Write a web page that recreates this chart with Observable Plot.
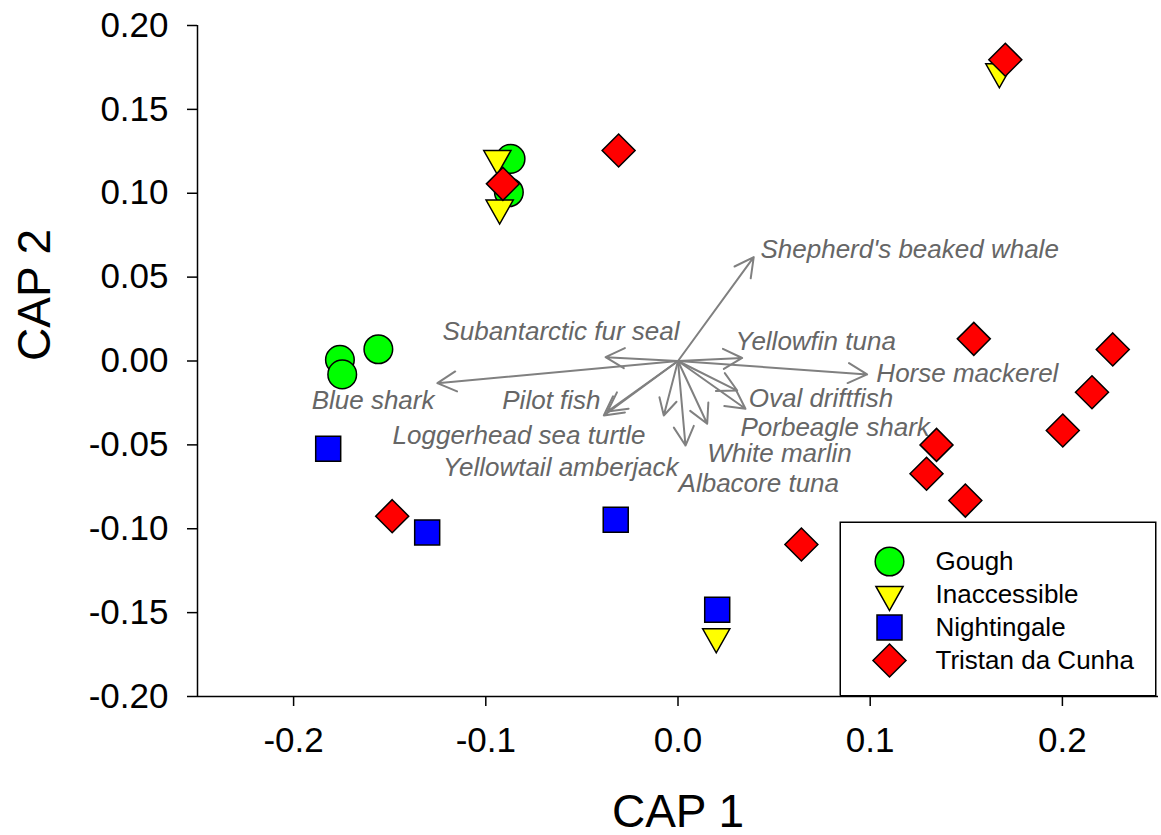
<!DOCTYPE html>
<html>
<head>
<meta charset="utf-8">
<script src="https://cdn.jsdelivr.net/npm/d3@7"></script>
<script src="https://cdn.jsdelivr.net/npm/@observablehq/plot@0.6"></script>
<style>
  body { margin: 0; background: #fff; }
  #wrap { position: relative; width: 1161px; height: 835px; font-family: "Liberation Sans", Arial, sans-serif; }
  #wrap > svg { position: absolute; left: 0; top: 0; }
  #wrap > svg.legend { left: 839px; top: 521px; }
</style>
</head>
<body>
<div id="wrap"></div>
<script>
// ---------- data ----------
const groups = ["Gough", "Inaccessible", "Nightingale", "Tristan da Cunha"];
const groupColors = ["#00ff00", "#ffff00", "#0000ff", "#ff0000"];

const goughX = [-0.0871, -0.0880, -0.1759, -0.1747, -0.1559];
const goughY = [0.1205, 0.1006, 0.0007, -0.0080, 0.0070];

const inaccessibleX = [-0.0940, -0.0928, 0.1672, 0.0199];
const inaccessibleY = [0.1207, 0.0912, 0.1724, -0.1644];

const nightingaleX = [-0.1820, -0.1305, -0.0324, 0.0204];
const nightingaleY = [-0.0523, -0.1022, -0.0947, -0.1483];

const tristanX = [-0.0911, -0.0309, 0.1703, -0.1487, 0.0642, 0.1539, 0.2262, 0.2154, 0.2002, 0.1345, 0.1293, 0.1495];
const tristanY = [0.1056, 0.1255, 0.1796, -0.0925, -0.1094, 0.0132, 0.0069, -0.0186, -0.0414, -0.0500, -0.0672, -0.0832];

const species = ["Shepherd's beaked whale", "Subantarctic fur seal", "Yellowfin tuna", "Horse mackerel",
  "Blue shark", "Pilot fish", "Loggerhead sea turtle", "Yellowtail amberjack",
  "Albacore tuna", "White marlin", "Porbeagle shark", "Oval driftfish"];
const vectorX = [0.0394, -0.0377, 0.0334, 0.0984, -0.1252, -0.0386, -0.0367, -0.0074, 0.0039, 0.0152, 0.0351, 0.0308];
const vectorY = [0.0619, 0.0023, 0.0018, -0.0080, -0.0132, -0.0325, -0.0301, -0.0325, -0.0504, -0.0374, -0.0285, -0.0176];
const labelX = [0.0429, 0.0008, 0.0299, 0.1032, -0.1267, -0.0403, -0.0169, 0.0003, 0.0003, 0.0152, 0.0325, 0.0368];
const labelY = [0.0665, 0.0176, 0.0116, -0.0076, -0.0235, -0.0235, -0.0444, -0.0633, -0.0732, -0.0553, -0.0395, -0.0225];
const labelSide = ["start", "end", "start", "start", "end", "end", "end", "end", "start", "start", "start", "start"];

const xTicks = [-0.2, -0.1, 0.0, 0.1, 0.2];
const yTicks = [-0.20, -0.15, -0.10, -0.05, 0.00, 0.05, 0.10, 0.15, 0.20];
const xDomain = [-0.25, 0.25];
const yDomain = [-0.20, 0.20];

// ---------- build tables ----------
const groupX = [goughX, inaccessibleX, nightingaleX, tristanX];
const groupY = [goughY, inaccessibleY, nightingaleY, tristanY];
const points = groups.map((g, gi) => groupX[gi].map((x, i) => ({group: g, x, y: groupY[gi][i]})));
const vectors = species.map((s, i) => ({species: s, x: vectorX[i], y: vectorY[i], lx: labelX[i], ly: labelY[i], side: labelSide[i]}));

// ---------- symbols ----------
const rad = size => Math.sqrt(size / Math.PI);
const symCircle = {draw(c, size) { const s = rad(size); c.moveTo(s, 0); c.arc(0, 0, s, 0, 2 * Math.PI); c.closePath(); }};
const symTriDown = {draw(c, size) { const s = rad(size); c.moveTo(-0.95 * s, -0.56 * s); c.lineTo(0.95 * s, -0.56 * s); c.lineTo(0, 1.12 * s); c.closePath(); }};
const symSquare = {draw(c, size) { const s = rad(size) * 0.874; c.moveTo(-s, -s); c.lineTo(s, -s); c.lineTo(s, s); c.lineTo(-s, s); c.closePath(); }};
const symDiamond = {draw(c, size) { const s = rad(size) * 1.154; c.moveTo(0, -s); c.lineTo(s, 0); c.lineTo(0, s); c.lineTo(-s, 0); c.closePath(); }};
const groupSymbols = [symCircle, symTriDown, symSquare, symDiamond];

const FONT = "Liberation Sans, Arial, sans-serif";
const R = 14.3;

// ---------- main chart ----------
const chart = Plot.plot({
  width: 1161,
  height: 835,
  marginLeft: 197,
  marginRight: 3,
  marginTop: 25,
  marginBottom: 139,
  style: {fontFamily: FONT, background: "white", color: "black", overflow: "visible"},
  x: {domain: xDomain},
  y: {domain: yDomain},
  marks: [
    Plot.ruleX([xDomain[0]], {stroke: "black", strokeWidth: 1.5}),
    Plot.ruleY([yDomain[0]], {stroke: "black", strokeWidth: 1.5}),
    Plot.axisX(xTicks, {tickSize: 10, tickPadding: 21, fontSize: 35, strokeWidth: 1.5, tickFormat: d => d.toFixed(1), label: null}),
    Plot.axisY(yTicks, {tickSize: 10, tickPadding: 19, fontSize: 35, strokeWidth: 1.5, tickFormat: d => d.toFixed(2), label: null}),
    Plot.text(["CAP 1"], {text: d => d, frameAnchor: "bottom", dy: 130, lineAnchor: "bottom", fontSize: 46, fill: "black"}),
    Plot.text(["CAP 2"], {text: d => d, frameAnchor: "left", dx: -162, rotate: -90, fontSize: 46, fill: "black"}),
    Plot.arrow(vectors, {x1: d => 0, y1: d => 0, x2: "x", y2: "y", stroke: "#808080", strokeWidth: 2, headLength: 16, headAngle: 56}),
    Plot.text(vectors.filter(d => d.side === "start"), {x: "lx", y: "ly", text: "species", textAnchor: "start", fontSize: 26, fontStyle: "italic", fill: "#666666"}),
    Plot.text(vectors.filter(d => d.side === "end"), {x: "lx", y: "ly", text: "species", textAnchor: "end", fontSize: 26, fontStyle: "italic", fill: "#666666"}),
    ...groups.map((g, gi) => Plot.dot(points[gi], {x: "x", y: "y", r: R, symbol: groupSymbols[gi], fill: groupColors[gi], stroke: "black", strokeWidth: 1.5}))
  ]
});

// ---------- legend (inside the plot area) ----------
const legend = Plot.plot({
  width: 317,
  height: 175,
  margin: 0,
  style: {fontFamily: FONT, background: "white", color: "black", overflow: "visible"},
  y: {type: "point", domain: groups, range: [39, 140], padding: 0, axis: null},
  marks: [
    Plot.frame({stroke: "black", strokeWidth: 1.5, fill: "white", inset: 0.75}),
    ...groups.map((g, gi) => Plot.dot([g], {y: d => d, frameAnchor: "left", dx: 50, r: R, symbol: groupSymbols[gi], fill: groupColors[gi], stroke: "black", strokeWidth: 1.5})),
    Plot.text(groups, {y: d => d, text: d => d, frameAnchor: "left", dx: 96, textAnchor: "start", fontSize: 26, fill: "black"})
  ]
});
legend.classList.add("legend");

const wrap = document.getElementById("wrap");
wrap.appendChild(chart);
wrap.appendChild(legend);
</script>
</body>
</html>
